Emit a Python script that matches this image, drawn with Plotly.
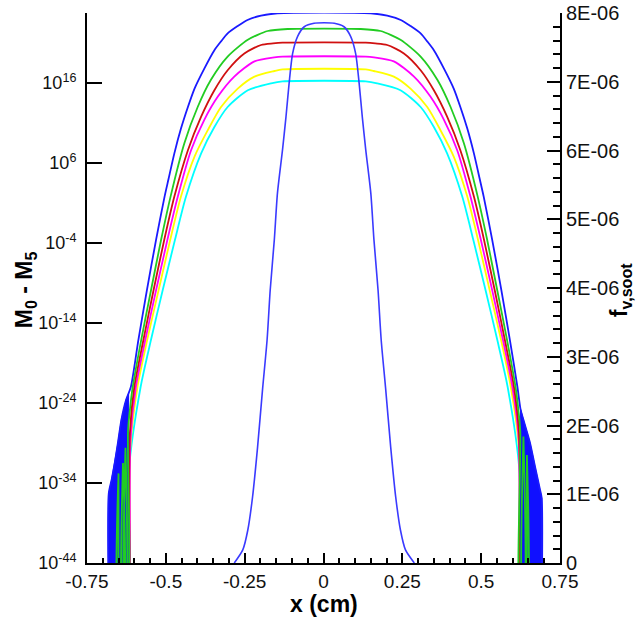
import plotly.graph_objects as go

FLOOR = -50  # exponent below the axis bottom (curve drops off the chart)

# ---- moment curves: x (cm) and log10(M) ----
m5_x = [-0.681, -0.681, -0.672, -0.662, -0.652, -0.641, -0.626, -0.611, -0.587, -0.560, -0.531, -0.504, -0.492,
        -0.473, -0.452, -0.430, -0.409, -0.378, -0.346, -0.325, -0.304, -0.272, -0.241, -0.198, -0.146,
        0.150, 0.202, 0.245, 0.276, 0.308, 0.329, 0.350, 0.382, 0.413, 0.434, 0.456, 0.477, 0.496, 0.508,
        0.535, 0.564, 0.591, 0.615, 0.625, 0.634, 0.645, 0.655, 0.671, 0.687, 0.692, 0.692]
m5_log = [FLOOR, -35.3, -33.6, -31.5, -29.0, -26.1, -23.6, -22.0, -16.1, -9.9, -3.6, 1.8, 3.9,
          7.2, 10.3, 13.0, 15.3, 17.8, 20.1, 21.2, 22.2, 23.12, 23.88, 24.42, 24.71,
          24.71, 24.42, 23.88, 23.12, 22.2, 21.2, 20.1, 17.8, 15.3, 13.0, 10.3, 7.2, 3.9, 1.8,
          -3.6, -9.9, -16.1, -22.0, -24.8, -26.1, -27.6, -29.0, -32.0, -34.9, -35.9, FLOOR]

# noisy (filled) tails of the top curve
band_left_x = [-0.681, -0.681, -0.672, -0.662, -0.652, -0.641, -0.626, -0.618, -0.618]
band_left_log = [FLOOR, -35.3, -33.6, -31.5, -29.0, -26.1, -23.6, -22.8, FLOOR]
band_right_x = [0.625, 0.625, 0.634, 0.645, 0.655, 0.671, 0.687, 0.692, 0.692]
band_right_log = [FLOOR, -24.8, -26.1, -27.6, -29.0, -32.0, -34.9, -35.9, FLOOR]

m4_x = [-0.650, -0.650, -0.650, -0.636, -0.636, -0.636, -0.628, -0.628, -0.628, -0.620, -0.620, -0.613,
        -0.605, -0.578, -0.547, -0.515, -0.485, -0.441, -0.399, -0.357, -0.304, -0.240, -0.177, -0.114,
        0.118, 0.181, 0.244, 0.308, 0.361, 0.403, 0.445, 0.489, 0.519, 0.551, 0.582, 0.609, 0.617, 0.624, 0.624,
        0.634, 0.634, 0.634, 0.645, 0.645, 0.645]
m4_log = [FLOOR, -32.8, FLOOR, FLOOR, -31.5, FLOOR, FLOOR, -29.6, FLOOR, FLOOR, -27.5, -24.5,
          -22.0, -16.1, -9.9, -3.6, 1.8, 8.5, 13.0, 16.4, 19.3, 21.4, 22.5, 22.75,
          22.75, 22.5, 21.4, 19.3, 16.4, 13.0, 8.5, 1.8, -3.6, -9.9, -16.1, -22.0, -24.5, -27.5, FLOOR,
          FLOOR, -28.2, FLOOR, FLOOR, -30.5, FLOOR]

m3_x = [-0.614, -0.614, -0.600, -0.571, -0.539, -0.505, -0.473, -0.430, -0.388, -0.346, -0.304, -0.251,
        -0.198, -0.160, -0.130,
        0.134, 0.164, 0.202, 0.255, 0.308, 0.350, 0.392, 0.434, 0.477, 0.509, 0.543, 0.575, 0.604, 0.620, 0.620]
m3_log = [FLOOR, -27.8, -22.0, -16.1, -9.9, -3.6, 1.8, 7.6, 11.8, 15.1, 17.6, 19.7, 20.75, 20.95, 21.04,
          21.04, 20.95, 20.75, 19.7, 17.6, 15.1, 11.8, 7.6, 1.8, -3.6, -9.9, -16.1, -22.0, -27.8, FLOOR]

m2_x = [-0.612, -0.612, -0.595, -0.565, -0.531, -0.495, -0.462, -0.420, -0.378, -0.335, -0.283, -0.219,
        -0.156, -0.130,
        0.134, 0.160, 0.223, 0.287, 0.339, 0.382, 0.424, 0.466, 0.499, 0.535, 0.569, 0.599, 0.619, 0.619]
m2_log = [FLOOR, -28.5, -22.0, -16.1, -9.9, -3.6, 1.8, 7.6, 11.4, 14.3, 16.8, 18.7, 19.2, 19.3,
          19.3, 19.2, 18.7, 16.8, 14.3, 11.4, 7.6, 1.8, -3.6, -9.9, -16.1, -22.0, -28.5, FLOOR]

m1_x = [-0.613, -0.613, -0.590, -0.559, -0.523, -0.486, -0.452, -0.409, -0.367, -0.325, -0.272, -0.219,
        -0.156, -0.130,
        0.134, 0.160, 0.223, 0.276, 0.329, 0.371, 0.413, 0.456, 0.490, 0.527, 0.563, 0.594, 0.620, 0.620]
m1_log = [FLOOR, -29.8, -22.0, -16.1, -9.9, -3.6, 1.8, 6.8, 10.1, 13.0, 15.3, 16.8, 17.5, 17.7,
          17.7, 17.5, 16.8, 15.3, 13.0, 10.1, 6.8, 1.8, -3.6, -9.9, -16.1, -22.0, -29.8, FLOOR]

m0_x = [-0.617, -0.617, -0.580, -0.547, -0.510, -0.471, -0.436, -0.388, -0.346, -0.304, -0.240, -0.166, -0.130,
        0.134, 0.170, 0.244, 0.308, 0.350, 0.392, 0.440, 0.475, 0.514, 0.551, 0.584, 0.621, 0.621]
m0_log = [FLOOR, -32.4, -22.0, -16.1, -9.9, -3.6, 1.8, 7.2, 10.5, 13.0, 15.1, 15.96, 16.2,
          16.2, 15.96, 15.1, 13.0, 10.5, 7.2, 1.8, -3.6, -9.9, -16.1, -22.0, -32.4, FLOOR]

# ---- soot volume fraction (right axis), units of 1e-6 ----
fv_x = [-0.283, -0.256, -0.240, -0.225, -0.209, -0.193, -0.179, -0.169, -0.156, -0.146, -0.130, -0.119,
        -0.109, -0.098, -0.082, -0.061, -0.030,
        0.034, 0.065, 0.086, 0.102, 0.113, 0.123, 0.134, 0.150, 0.160, 0.173, 0.183, 0.197, 0.213, 0.229,
        0.244, 0.260, 0.288]
fv_e6 = [0, 0.19, 0.48, 0.96, 1.69, 2.54, 3.24, 3.97, 4.70, 5.38, 6.01, 6.49, 6.98, 7.41, 7.66, 7.80, 7.85,
         7.85, 7.80, 7.66, 7.41, 6.98, 6.49, 6.01, 5.38, 4.70, 3.97, 3.24, 2.54, 1.69, 0.96, 0.48, 0.19, 0]

# ---- ticks ----
x_tickvals = [-0.75, -0.5, -0.25, 0, 0.25, 0.5, 0.75]
x_ticktext = ["-0.75", "-0.5", "-0.25", "0", "0.25", "0.5", "0.75"]
y_exps = [-44, -34, -24, -14, -4, 6, 16]
y2_vals_e6 = [0, 1, 2, 3, 4, 5, 6, 7, 8]
y2_ticktext = ["0", "1E-06", "2E-06", "3E-06", "4E-06", "5E-06", "6E-06", "7E-06", "8E-06"]

FONT = "Arial, 'Liberation Sans', sans-serif"


def pw(lst):
    return [10.0 ** v for v in lst]


fig = go.Figure()

line_series = [
    (m0_x, m0_log, "#00ffff", "M0"),
    (m1_x, m1_log, "#ffff00", "M1"),
    (m2_x, m2_log, "#ff00ff", "M2"),
    (m3_x, m3_log, "#d01010", "M3"),
]
for xs, ls, col, nm in line_series:
    fig.add_trace(go.Scatter(x=xs, y=pw(ls), mode="lines", name=nm,
                             line=dict(color=col, width=1.8, shape="spline", smoothing=0.7),
                             hoverinfo="skip"))

for bx, bl in [(band_left_x, band_left_log), (band_right_x, band_right_log)]:
    fig.add_trace(go.Scatter(x=bx, y=pw(bl), mode="lines", fill="toself", fillcolor="#1010ff",
                             line=dict(color="#1010ff", width=1), hoverinfo="skip", name="M5 tail"))

fig.add_trace(go.Scatter(x=m5_x, y=pw(m5_log), mode="lines", name="M5",
                         line=dict(color="#1a1aff", width=1.8, shape="spline", smoothing=0.7),
                         hoverinfo="skip"))
fig.add_trace(go.Scatter(x=m4_x, y=pw(m4_log), mode="lines", name="M4",
                         line=dict(color="#22cc22", width=1.8, shape="spline", smoothing=0.7),
                         hoverinfo="skip"))

fig.add_trace(go.Scatter(x=fv_x, y=[v * 1e-6 for v in fv_e6], mode="lines", name="fv",
                         line=dict(color="#3a3aff", width=1.6, shape="spline", smoothing=0.7),
                         yaxis="y2", hoverinfo="skip"))

fig.update_layout(
    width=644, height=621,
    margin=dict(l=87, r=84, t=13, b=58, autoexpand=False),
    plot_bgcolor="white", paper_bgcolor="white",
    showlegend=False,
    font=dict(family=FONT, color="black"),
    xaxis=dict(
        range=[-0.75, 0.75], tickmode="array", tickvals=x_tickvals, ticktext=x_ticktext,
        ticks="inside", ticklen=10, tickwidth=2, tickcolor="black",
        showline=True, linewidth=2, linecolor="black", mirror=False,
        showgrid=False, zeroline=False, automargin=False,
        tickfont=dict(size=19, family=FONT, color="#111"),
        minor=dict(ticks="inside", dtick=0.05, tick0=0, ticklen=5, tickwidth=1.5,
                   tickcolor="black", showgrid=False),
    ),
    yaxis=dict(
        type="log", range=[-44, 24.75], tickmode="array",
        tickvals=[10.0 ** e for e in y_exps],
        ticktext=["10<sup>%d</sup>" % e for e in y_exps],
        ticks="inside", ticklen=15, tickwidth=2, tickcolor="black",
        showline=True, linewidth=2, linecolor="black",
        showgrid=False, zeroline=False, automargin=False,
        ticklabelstandoff=5,
        tickfont=dict(size=18, family=FONT, color="#111"),
    ),
    yaxis2=dict(
        overlaying="y", side="right", range=[0, 8e-6], tickmode="array",
        tickvals=[v * 1e-6 for v in y2_vals_e6], ticktext=y2_ticktext,
        ticks="inside", ticklen=13, tickwidth=2, tickcolor="black",
        showline=True, linewidth=2, linecolor="black",
        showgrid=False, zeroline=False, automargin=False,
        tickfont=dict(size=20, family=FONT, color="#111"),
        minor=dict(ticks="inside", dtick=2e-7, tick0=0, ticklen=7, tickwidth=1.5,
                   tickcolor="black", showgrid=False),
    ),
    annotations=[
        dict(text="<b>M<sub>0</sub> - M<sub>5</sub></b>", xref="paper", yref="paper",
             x=-0.131, y=0.496, textangle=-90, showarrow=False,
             font=dict(size=23, family=FONT, color="black"), xanchor="center", yanchor="middle"),
        dict(text="<b>f<sub>v,soot</sub></b>", xref="paper", yref="paper",
             x=1.127, y=0.496, textangle=-90, showarrow=False,
             font=dict(size=23, family=FONT, color="black"), xanchor="center", yanchor="middle"),
        dict(text="<b>x (cm)</b>", xref="paper", yref="paper",
             x=0.5, y=-0.0745, showarrow=False,
             font=dict(size=23, family=FONT, color="black"), xanchor="center", yanchor="middle"),
    ],
)

fig.write_html("out.html")
